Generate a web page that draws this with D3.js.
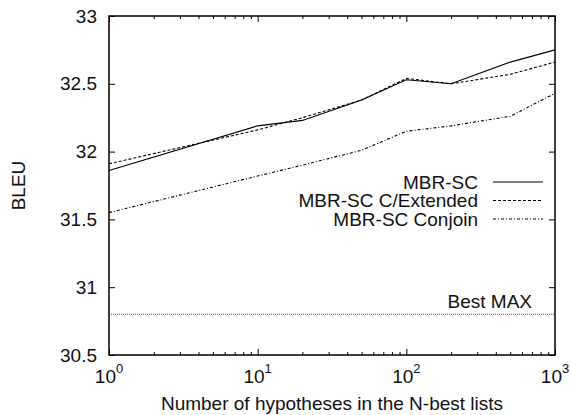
<!DOCTYPE html>
<html>
<head>
<meta charset="UTF-8">
<title>BLEU vs N-best</title>
<script src="https://cdn.jsdelivr.net/npm/d3@7/dist/d3.min.js"></script>
<style>
	body { margin: 0; background: #fff; }
	text { font-family: "Liberation Sans", Arial, Helvetica, sans-serif; fill: #111; }
</style>
</head>
<body>
	<div id="chart"></div>
	<script type="text/javascript">
		// data
		var nbest = [1, 10, 20, 50, 100, 200, 500, 1000];
		var mbrSC = [31.86, 32.19, 32.23, 32.38, 32.53, 32.50, 32.66, 32.75];
		var mbrExtended = [31.91, 32.16, 32.25, 32.38, 32.54, 32.50, 32.57, 32.66];
		var mbrConjoin = [31.55, 31.82, 31.90, 32.01, 32.15, 32.19, 32.26, 32.43];
		var bestMax = 30.8;
		var seriesNames = ["MBR-SC", "MBR-SC C/Extended", "MBR-SC Conjoin"];
		var yTicks = [30.5, 31, 31.5, 32, 32.5, 33];
		var xTicks = [1, 10, 100, 1000];

		var W = 571, H = 415;
		var margin = { top : 16, right : 16, bottom : 60, left : 109 };
		var width = W - margin.left - margin.right;
		var height = H - margin.top - margin.bottom;

		var svg = d3.select("#chart").append("svg").attr("width", W).attr("height", H);
		var g = svg.append("g").attr("transform", "translate(" + margin.left + "," + margin.top + ")");

		var x = d3.scaleLog().domain([1, 1000]).range([ 0, width ]);
		var y = d3.scaleLinear().domain([30.5, 33]).range([ height, 0 ]);

		// minor ticks for log axis
		var minor = [];
		[1, 10, 100].forEach(function(d) {
			for (var k = 2; k <= 9; k++) minor.push(d * k);
		});

		// ticks (inward, mirrored like gnuplot)
		g.append("g").attr("transform", "translate(0," + height + ")").call(d3.axisBottom(x).tickValues(xTicks).tickSize(-6).tickFormat(""));
		g.append("g").attr("transform", "translate(0," + height + ")").call(d3.axisBottom(x).tickValues(minor).tickSize(-3).tickFormat(""));
		g.append("g").call(d3.axisTop(x).tickValues(xTicks).tickSize(-6).tickFormat(""));
		g.append("g").call(d3.axisTop(x).tickValues(minor).tickSize(-3).tickFormat(""));
		g.append("g").call(d3.axisLeft(y).tickValues(yTicks).tickSize(-6).tickFormat(""));
		g.append("g").attr("transform", "translate(" + width + ",0)").call(d3.axisRight(y).tickValues(yTicks).tickSize(-6).tickFormat(""));
		g.selectAll(".domain").remove();
		g.selectAll(".tick line").attr("stroke", "#000").attr("stroke-width", 1);

		// y tick labels
		g.selectAll(".ylab").data(yTicks).enter().append("text").attr("class", "ylab")
			.attr("x", -12).attr("y", function(d) { return y(d); }).attr("dy", "0.35em")
			.attr("text-anchor", "end").style("font-size", "19px").text(function(d) { return d; });

		// x tick labels 10^k
		var xl = g.selectAll(".xlab").data(xTicks).enter().append("text").attr("class", "xlab")
			.attr("x", function(d) { return x(d); }).attr("y", height + 28)
			.attr("text-anchor", "middle").style("font-size", "19px");
		xl.append("tspan").text("10");
		xl.append("tspan").attr("dy", -10).style("font-size", "13px").text(function(d) { return Math.round(Math.log10(d)); });

		// axis titles
		svg.append("text").attr("x", margin.left + width / 2).attr("y", 410).attr("text-anchor", "middle")
			.style("font-size", "19px").text("Number of hypotheses in the N-best lists");
		svg.append("text").attr("transform", "translate(25," + (margin.top + height / 2) + ") rotate(-90)")
			.attr("text-anchor", "middle").style("font-size", "19px").text("BLEU");

		// best MAX
		g.append("line").attr("x1", 0).attr("x2", width).attr("y1", y(bestMax)).attr("y2", y(bestMax))
			.attr("stroke", "#555").attr("stroke-width", 1).attr("stroke-dasharray", "1,1");
		g.append("text").attr("x", x(1000) - 23).attr("y", y(bestMax) - 6).attr("text-anchor", "end")
			.style("font-size", "19px").text("Best MAX");

		// lines
		var styles = [
			{ values : mbrSC, dash : null },
			{ values : mbrExtended, dash : "3,2" },
			{ values : mbrConjoin, dash : "3,2,1,2" }
		];
		var line = d3.line().x(function(d) { return x(d[0]); }).y(function(d) { return y(d[1]); });

		styles.forEach(function(s, i) {
			var pts = nbest.map(function(n, j) { return [n, s.values[j]]; });
			g.append("path").datum(pts).attr("fill", "none").attr("stroke", "#000").attr("stroke-width", 1.1)
				.attr("stroke-dasharray", s.dash).attr("d", line);

			// legend
			var ly = 166 + i * 18.5;
			g.append("text").attr("x", 478 - margin.left).attr("y", ly).attr("dy", "0.35em").attr("text-anchor", "end")
				.style("font-size", "19px").text(seriesNames[i]);
			g.append("line").attr("x1", 493 - margin.left).attr("x2", 543 - margin.left).attr("y1", ly).attr("y2", ly)
				.attr("stroke", "#000").attr("stroke-width", 1.1).attr("stroke-dasharray", s.dash);
		});

		// frame
		g.append("rect").attr("width", width).attr("height", height).attr("fill", "none")
			.attr("stroke", "#000").attr("stroke-width", 1.5);
	</script>
</body>
</html>
